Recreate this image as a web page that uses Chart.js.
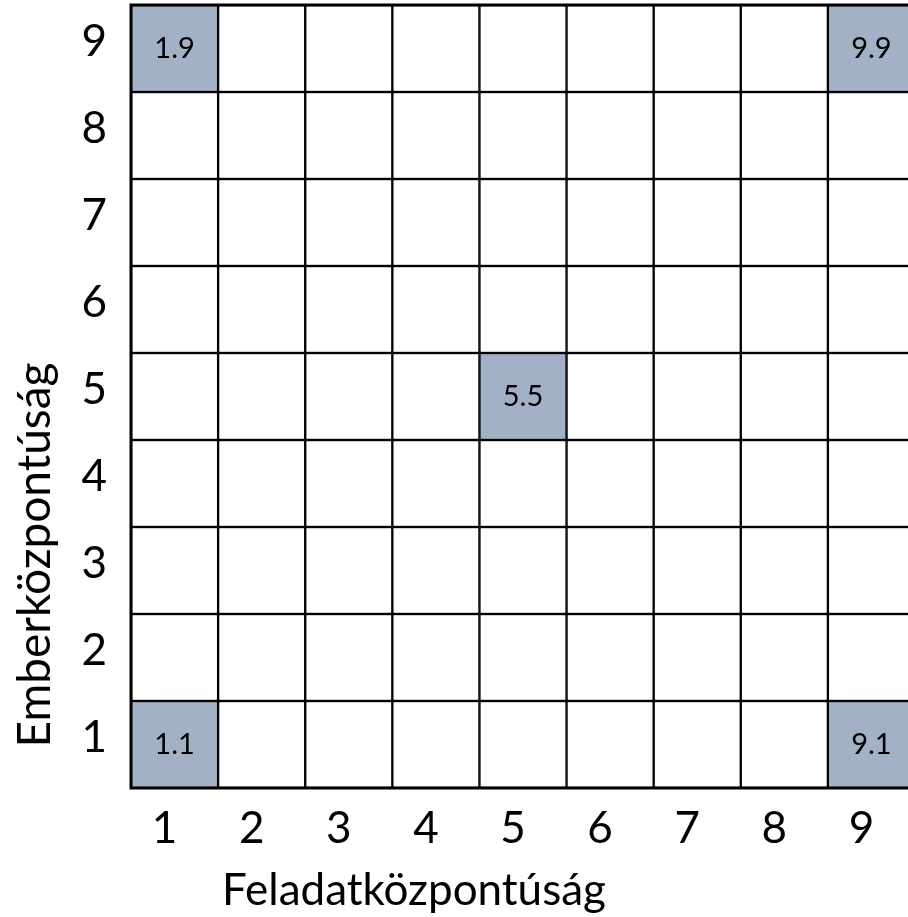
<!DOCTYPE html>
<html>
<head>
<meta charset="utf-8">
<script src="https://cdn.jsdelivr.net/npm/chart.js@4"></script>
<style>
  body { margin: 0; background: #fff; overflow: hidden; }
  #wrap { width: 916px; height: 917px; }
</style>
</head>
<body>
<div id="wrap"><canvas id="grid"></canvas></div>
<script>
// feladatközpontúság (x) és emberközpontúság (y) skála
const columns = ['1', '2', '3', '4', '5', '6', '7', '8', '9'];
const rows = [1, 2, 3, 4, 5, 6, 7, 8, 9];

// kiemelt cellák: oszlop, sor, felirat
const markedCols = ['1', '9', '5', '1', '9'];
const markedRows = [9, 9, 5, 1, 1];
const markedLabels = ['1.9', '9.9', '5.5', '1.1', '9.1'];

const FONT = 'Lato, "Open Sans", sans-serif';
const fill = '#a3b1c6';

const isMarked = (c, r) => markedCols.some((mc, i) => mc === c && markedRows[i] === r);

const datasets = rows.map(r => ({
  label: 'sor ' + r,
  data: columns.map(() => [r - 0.5, r + 0.5]),
  backgroundColor: columns.map(c => isMarked(c, r) ? fill : '#ffffff'),
  borderColor: '#000',
  borderWidth: 1.5,
  borderSkipped: false,
  grouped: false,
  barPercentage: 1,
  categoryPercentage: 1
}));

const cellLabels = {
  id: 'cellLabels',
  afterDatasetsDraw(chart) {
    const { ctx, scales } = chart;
    ctx.save();
    ctx.font = '29px ' + FONT;
    ctx.fillStyle = '#000';
    ctx.textAlign = 'center';
    ctx.textBaseline = 'middle';
    markedLabels.forEach((t, i) => {
      const x = scales.x.getPixelForValue(columns.indexOf(markedCols[i]));
      const y = scales.y.getPixelForValue(markedRows[i]);
      ctx.fillText(t, x, y);
    });
    const a = chart.chartArea;
    ctx.lineWidth = 3;
    ctx.strokeStyle = '#000';
    ctx.strokeRect(a.left, a.top, a.right - a.left, a.bottom - a.top);
    ctx.restore();
  }
};

const axisTitles = {
  id: 'axisTitles',
  afterDraw(chart) {
    const { ctx } = chart;
    ctx.save();
    ctx.fillStyle = '#000';
    ctx.textAlign = 'center';
    ctx.textBaseline = 'alphabetic';
    ctx.font = '44px ' + FONT;
    ctx.fillText('Feladatközpontúság', 414, 905);
    ctx.font = '46px ' + FONT;
    ctx.translate(50, 555);
    ctx.rotate(-Math.PI / 2);
    ctx.fillText('Emberközpontúság', 0, 0);
    ctx.restore();
  }
};

new Chart(document.getElementById('grid'), {
  type: 'bar',
  data: { labels: columns, datasets: datasets },
  options: {
    responsive: true,
    maintainAspectRatio: false,
    animation: false,
    layout: { padding: { top: 5, right: 1, left: 0, bottom: 0 } },
    plugins: {
      legend: { display: false },
      tooltip: { enabled: false }
    },
    scales: {
      x: {
        grid: { display: false },
        border: { display: false },
        ticks: { color: '#000', font: { family: FONT, size: 44 }, padding: 6, labelOffset: -10, maxRotation: 0 },
        afterFit(scale) {
          scale.height = 129;
          scale.paddingLeft = 0;
          scale.paddingRight = 0;
        }
      },
      y: {
        min: 0.5,
        max: 9.5,
        grid: { display: false },
        border: { display: false },
        afterBuildTicks(scale) { scale.ticks = rows.map(v => ({ value: v })); },
        ticks: { color: '#000', font: { family: FONT, size: 44 }, padding: 16, labelOffset: -7 },
        afterFit(scale) {
          scale.width = 131;
          scale.paddingTop = 0;
          scale.paddingBottom = 0;
        }
      }
    }
  },
  plugins: [cellLabels, axisTitles]
});
</script>
</body>
</html>
